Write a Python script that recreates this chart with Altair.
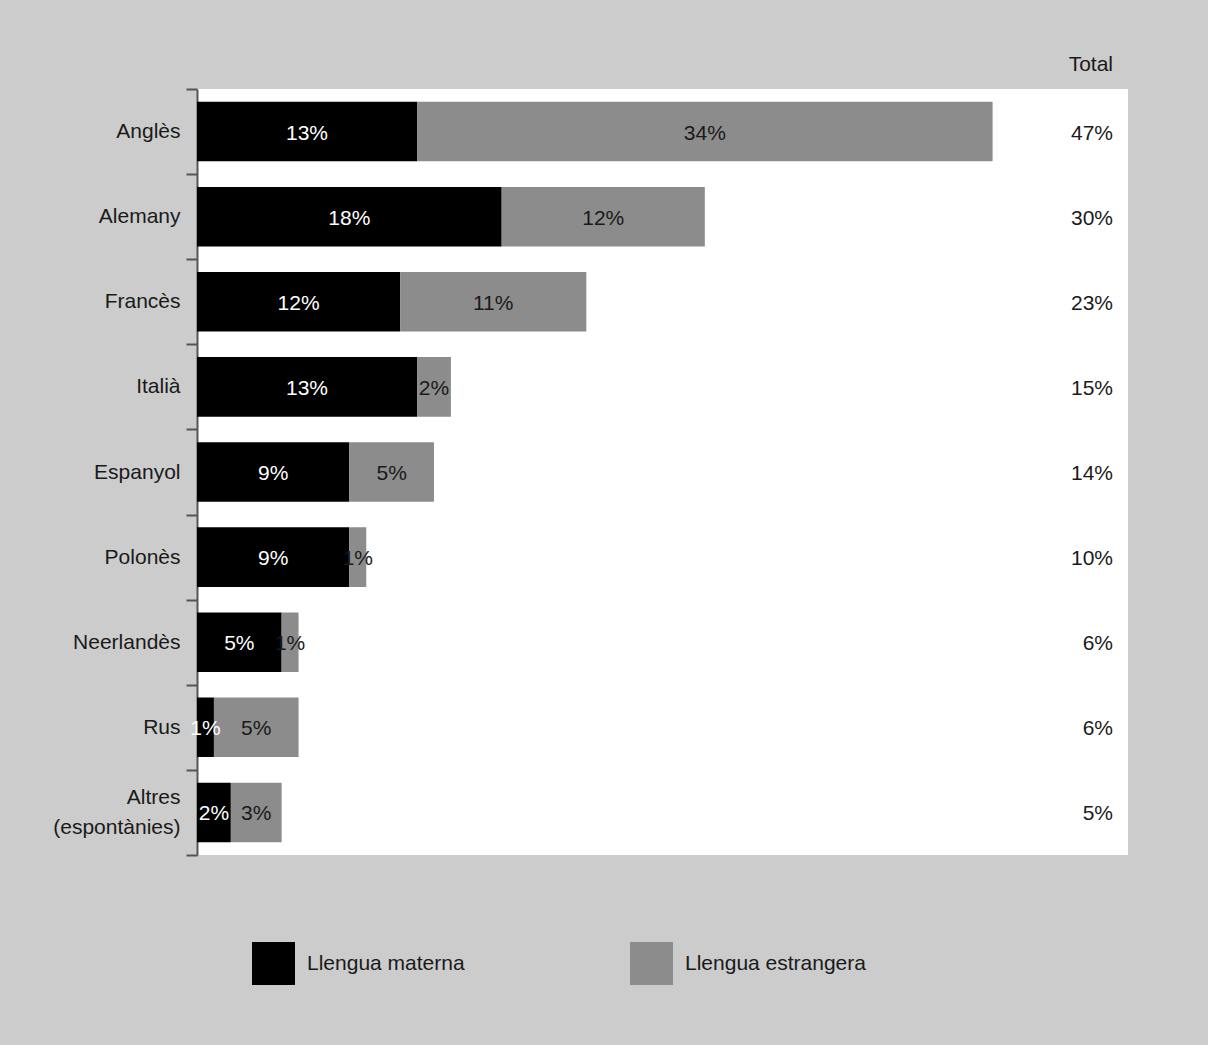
import altair as alt
import pandas as pd

langs = ["Anglès", "Alemany", "Francès", "Italià", "Espanyol", "Polonès",
         "Neerlandès", "Rus", "Altres (espontànies)"]
materna = [13, 18, 12, 13, 9, 9, 5, 1, 2]
estrangera = [34, 12, 11, 2, 5, 1, 1, 5, 3]
total = [47, 30, 23, 15, 14, 10, 6, 6, 5]
series = ["Llengua materna", "Llengua estrangera"]
colors = ["#000000", "#8c8c8c"]

rows = []
for i, l in enumerate(langs):
    rows.append({"lang": l, "type": series[0], "value": materna[i], "order": 0})
    rows.append({"lang": l, "type": series[1], "value": estrangera[i], "order": 1})
df = pd.DataFrame(rows)
tot = pd.DataFrame({"lang": langs, "total": total})

FONT = "Liberation Sans"
FS = 21

yenc = alt.Y("lang:N", sort=langs, title=None,
             scale=alt.Scale(paddingInner=0, paddingOuter=0),
             axis=alt.Axis(tickBand="extent", tickSize=11, labelPadding=6,
                           domainColor="#555555", domainWidth=2,
                           tickColor="#555555", tickWidth=2,
                           labelFont=FONT, labelFontSize=FS, labelColor="#1a1a1a",
                           labelLineHeight=30,
                           labelOffset={"condition": {"test": "datum.label == 'Altres (espontànies)'", "value": -15}, "value": 0},
                           labelExpr="datum.label == 'Altres (espontànies)' ? ['Altres', '(espontànies)'] : datum.label"))

xscale = alt.Scale(domain=[0, 55], nice=False, zero=True)

base = alt.Chart(df).transform_stack(
    stack="value", groupby=["lang"], as_=["x0", "x1"],
    sort=[alt.SortField("order", order="ascending")]
).transform_calculate(
    mid="(datum.x0 + datum.x1) / 2",
    lab="datum.value + '%'"
)

bars = base.mark_bar(height={"band": 0.7}).encode(
    y=yenc,
    x=alt.X("x0:Q", scale=xscale, axis=None),
    x2="x1:Q",
    color=alt.Color("type:N", scale=alt.Scale(domain=series, range=colors),
                    legend=alt.Legend(orient="none", legendX=55, legendY=853,
                                      direction="horizontal", columns=2,
                                      columnPadding=165, title=None,
                                      symbolType="square", symbolSize=1849,
                                      symbolStrokeWidth=0, labelOffset=12,
                                      labelLimit=400,
                                      labelFont=FONT, labelFontSize=FS,
                                      labelColor="#1a1a1a", padding=0)),
)

labels = base.mark_text(font=FONT, fontSize=FS, align="center", baseline="middle", dy=2).encode(
    y=alt.Y("lang:N", sort=langs),
    x=alt.X("mid:Q", scale=xscale),
    text="lab:N",
    color=alt.condition(alt.datum.type == series[0], alt.value("#ffffff"), alt.value("#1a1a1a")),
)

totals = alt.Chart(tot).transform_calculate(lab="datum.total + '%'").mark_text(
    font=FONT, fontSize=FS, align="right", baseline="middle", color="#1a1a1a", dy=2
).encode(
    y=alt.Y("lang:N", sort=langs),
    x=alt.value(916),
    text="lab:N",
)

chart = alt.layer(bars, labels, totals).properties(
    width=931, height=766,
    title=alt.TitleParams("Total", anchor="end", dx=-15, offset=3,
                          font=FONT, fontSize=FS, fontWeight="normal", color="#1a1a1a"),
    autosize=alt.AutoSizeParams(type="none"),
    padding={"left": 197, "top": 89, "right": 80, "bottom": 190},
    background="#cccccc",
).configure_view(fill="#ffffff", stroke=None)

chart.save("out.html", embed_options={"renderer": "svg", "actions": False})
